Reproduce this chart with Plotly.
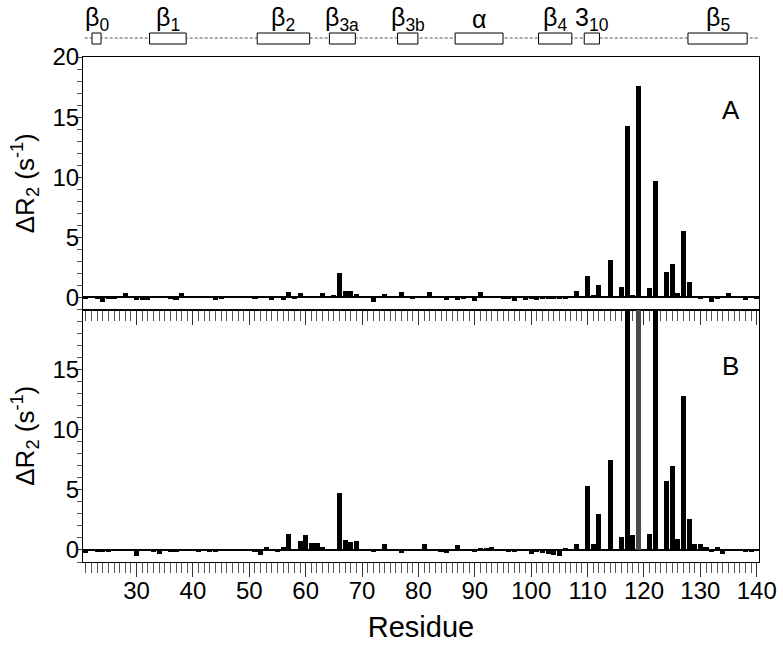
import plotly.graph_objects as go
from plotly.subplots import make_subplots

residues = list(range(21, 141))

# Delta R2 (s^-1), panel A, residues 21-140
dr2_a = [
    -0.05, 0, -0.1, -0.35, -0.15, -0.15, 0, 0.35, 0, -0.25,
    -0.25, -0.2, 0.15, 0, 0, -0.15, -0.25, 0.4, 0, 0.15,
    0, 0.1, 0, -0.2, -0.1, 0, 0, 0, 0, 0.1,
    -0.15, 0.15, 0, -0.2, 0, -0.25, 0.45, -0.1, 0.4, 0,
    0, 0, 0.4, 0, 0.2, 2.04, 0.56, 0.56, 0.28, 0,
    0, -0.36, 0, 0.28, 0, 0, 0.42, 0, -0.15, 0.08,
    0.14, 0.42, 0, 0, -0.2, 0.14, -0.2, -0.1, 0, -0.33,
    0.42, 0.12, 0, 0, -0.05, -0.08, -0.3, 0.16, -0.2, -0.05,
    -0.2, -0.1, -0.05, -0.1, -0.1, -0.1, 0, 0.52, 0, 1.8,
    0.22, 1.02, 0, 3.08, 0, 0.9, 14.3, 0.2, 17.63, 0,
    0.83, 9.72, 0, 2.1, 2.8, 0.4, 5.5, 1.25, 0.08, -0.1,
    0.02, -0.35, -0.15, 0.1, 0.4, 0.1, 0.05, -0.25, 0.02, -0.05,
]

# Delta R2 (s^-1), panel B, residues 21-140 (117, 119, 122 are off scale)
dr2_b = [
    -0.2, 0.05, -0.1, -0.1, -0.1, 0.05, 0, 0.05, 0, -0.47,
    0, 0.05, -0.1, -0.28, 0, -0.12, -0.15, 0.1, 0.08, 0,
    -0.15, 0, -0.12, -0.15, 0.08, 0, 0, 0, 0.05, 0.08,
    -0.1, -0.35, 0.28, 0.15, -0.15, 0.33, 1.33, 0.05, 0.78, 1.25,
    0.6, 0.65, 0.28, 0.03, 0.05, 4.75, 0.88, 0.72, 0.8, 0,
    0, -0.12, 0, 0.5, 0, 0, -0.25, 0, 0.08, 0,
    0.5, 0.02, 0.02, -0.1, -0.2, 0.1, 0.42, 0.1, 0.05, -0.14,
    0.2, 0.22, 0.3, 0.1, 0.02, -0.14, -0.05, 0.14, 0.14, -0.28,
    -0.14, -0.2, -0.28, -0.35, -0.45, 0.2, 0, 0.5, 0, 5.38,
    0.5, 3.05, 0, 7.5, 0, 1.1, 25, 1.25, 25, 0,
    1.4, 25, 0, 5.75, 7.0, 0.97, 12.86, 2.6, 0.5, 0.5,
    0.28, -0.12, 0.28, -0.28, 0.05, 0.1, 0.08, -0.1, -0.05, 0.03,
]
gray_residues_b = [119]

# secondary structure elements drawn above panel A
ss_labels = [
    "β<sub>0</sub>", "β<sub>1</sub>", "β<sub>2</sub>", "β<sub>3a</sub>",
    "β<sub>3b</sub>", "α", "β<sub>4</sub>", "3<sub>10</sub>", "β<sub>5</sub>",
]
ss_start = [22.1, 32.3, 51.4, 64.2, 76.3, 86.5, 101.3, 109.4, 127.8]
ss_end = [23.7, 38.8, 60.7, 68.8, 79.9, 95.0, 107.2, 112.1, 138.3]

x_ticks = list(range(30, 141, 10))
y_ticks_a = [0, 5, 10, 15, 20]
y_ticks_b = [0, 5, 10, 15]

FONT = "Liberation Sans, Arial, sans-serif"
TICK = "#333333"
X_RANGE = [20.5, 140.4]

fig = make_subplots(rows=2, cols=1, shared_xaxes=True, vertical_spacing=0)

fig.add_trace(
    go.Bar(x=residues, y=dr2_a, width=0.9, marker=dict(color="black", line=dict(width=0))),
    row=1, col=1,
)
colors_b = ["#4a4a4a" if r in gray_residues_b else "black" for r in residues]
fig.add_trace(
    go.Bar(x=residues, y=dr2_b, width=0.9, marker=dict(color=colors_b, line=dict(width=0))),
    row=2, col=1,
)

x_common = dict(
    range=X_RANGE,
    tickvals=x_ticks,
    ticks="outside",
    ticklen=14,
    tickwidth=1,
    tickcolor=TICK,
    minor=dict(dtick=1, tick0=0, ticks="outside", ticklen=10, tickwidth=1, tickcolor="#555555"),
    showline=True,
    linecolor="black",
    linewidth=1,
    mirror=True,
    showgrid=False,
    zeroline=False,
    automargin=False,
)
fig.update_xaxes(**x_common, showticklabels=False, row=1, col=1)
fig.update_xaxes(
    **x_common,
    showticklabels=True,
    tickfont=dict(size=24),
    ticklabelstandoff=-7,
    title=dict(text="Residue", font=dict(size=29), standoff=13),
    row=2, col=1,
)

# short inner part of the major x ticks (they cross the axis line)
inner_ticks = dict(
    range=X_RANGE, tickvals=x_ticks, ticks="inside", ticklen=5, tickwidth=1,
    tickcolor=TICK, showticklabels=False, showline=False, showgrid=False,
    zeroline=False, automargin=False, side="bottom",
)
fig.update_layout(
    xaxis3=dict(overlaying="x", anchor="y", **inner_ticks),
    xaxis4=dict(overlaying="x2", anchor="y2", **inner_ticks),
)

y_common = dict(
    range=[-1, 20],
    ticks="outside",
    ticklen=6,
    tickwidth=1,
    tickcolor=TICK,
    minor=dict(dtick=1, tick0=0, ticks="outside", ticklen=5, tickwidth=1, tickcolor="#555555"),
    showline=True,
    linecolor="black",
    linewidth=1,
    mirror=True,
    showgrid=False,
    zeroline=True,
    zerolinecolor="black",
    zerolinewidth=1.5,
    automargin=False,
    tickfont=dict(size=24),
    ticklabelstandoff=-8,
    title=dict(text="ΔR<sub>2</sub> (s<sup>-1</sup>)", font=dict(size=26), standoff=10),
)
fig.update_yaxes(**y_common, tickvals=y_ticks_a, row=1, col=1)
fig.update_yaxes(**y_common, tickvals=y_ticks_b, row=2, col=1)

fig.add_annotation(x=135.4, y=15.6, xref="x", yref="y", text="A", showarrow=False,
                   font=dict(size=26))
fig.add_annotation(x=135.4, y=15.3, xref="x2", yref="y2", text="B", showarrow=False,
                   font=dict(size=26))

# secondary structure track
fig.add_shape(type="line", xref="x", yref="paper", x0=20.8, x1=140.4, y0=1.0376, y1=1.0376,
              line=dict(color="#555555", width=1, dash="3px,2px"))
for label, s, e in zip(ss_labels, ss_start, ss_end):
    fig.add_shape(type="rect", xref="x", yref="paper", x0=s, x1=e, y0=1.0257, y1=1.0475,
                  fillcolor="white", line=dict(color="black", width=1))
    fig.add_annotation(x=(s + e) / 2, y=1.076, xref="x", yref="paper", text=label,
                       showarrow=False, yanchor="middle", font=dict(size=25))

fig.update_layout(
    width=783,
    height=647,
    margin=dict(l=83, r=24, t=57, b=85, autoexpand=False),
    plot_bgcolor="white",
    paper_bgcolor="white",
    font=dict(family=FONT, color="black", size=24),
    showlegend=False,
    bargap=0,
)

# the page body has a default 8px margin; drop it so the figure sits at 0,0
fig.write_html(
    "out.html",
    config={"displayModeBar": False},
    post_script="document.body.style.margin='0';",
)
